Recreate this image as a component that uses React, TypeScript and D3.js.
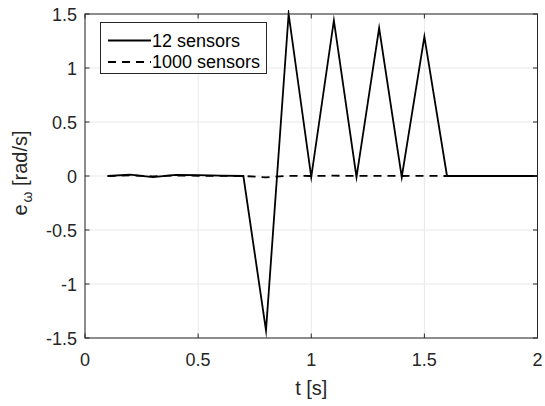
import React from "react";
import * as d3 from "d3";

const tValues = [0.1, 0.2, 0.3, 0.4, 0.5, 0.6, 0.7, 0.8, 0.9, 1.0, 1.1, 1.2, 1.3, 1.4, 1.5, 1.6, 1.7, 1.8, 1.9, 2.0];
const sensors12 = [0, 0.012, -0.01, 0.01, 0.008, 0.003, 0, -1.43, 1.5, -0.01, 1.44, -0.01, 1.37, -0.01, 1.29, 0, 0, 0, 0, 0];
const sensors1000 = [0, 0.005, -0.003, 0.004, 0.002, 0.001, 0, -0.012, 0.002, 0, 0.003, 0, 0.002, 0, 0.001, 0, 0, 0, 0, 0];
const xTicks = [0, 0.5, 1, 1.5, 2];
const yTicks = [-1.5, -1, -0.5, 0, 0.5, 1, 1.5];
const seriesNames = ["12 sensors", "1000 sensors"];

const W = 545, H = 406;
const L = 85, R = 537.5, T = 14, B = 338;

export default function App() {
  const x = d3.scaleLinear().domain([0, 2]).range([L, R]);
  const y = d3.scaleLinear().domain([-1.5, 1.5]).range([B, T]);
  const line = d3.line<number>().x((_, i) => x(tValues[i])).y((d) => y(d));
  const font = "'Liberation Sans', Arial, sans-serif";
  const axisColor = "#262626";
  const fmt = (v: number) => String(v);
  return (
    <svg width={W} height={H} style={{ position: "absolute", left: 0, top: 0, background: "#fff" }}>
      <defs>
        <clipPath id="clip">
          <rect x={L} y={T - 4} width={R - L} height={B - T + 8} />
        </clipPath>
      </defs>
      <rect x={0} y={0} width={W} height={H} fill="#fff" />
      {xTicks.map((t) => (
        <line key={"gx" + t} x1={x(t)} x2={x(t)} y1={T} y2={B} stroke="#e8e8e8" strokeWidth={1} />
      ))}
      {yTicks.map((t) => (
        <line key={"gy" + t} x1={L} x2={R} y1={y(t)} y2={y(t)} stroke="#e8e8e8" strokeWidth={1} />
      ))}
      <g clipPath="url(#clip)">
        <path d={line(sensors1000) || ""} fill="none" stroke="#000" strokeWidth={1.8} strokeDasharray="8,6" />
        <path d={line(sensors12) || ""} fill="none" stroke="#000" strokeWidth={1.8} strokeLinejoin="miter" strokeMiterlimit={10} />
      </g>
      <rect x={L} y={T} width={R - L} height={B - T} fill="none" stroke={axisColor} strokeWidth={1} />
      {xTicks.map((t) => (
        <g key={"xt" + t}>
          <line x1={x(t)} x2={x(t)} y1={B} y2={B - 4.5} stroke={axisColor} />
          <line x1={x(t)} x2={x(t)} y1={T} y2={T + 4.5} stroke={axisColor} />
          <text x={x(t)} y={B + 27.5} textAnchor="middle" fontFamily={font} fontSize={18} fill={axisColor}>
            {fmt(t)}
          </text>
        </g>
      ))}
      {yTicks.map((t) => (
        <g key={"yt" + t}>
          <line x1={L} x2={L + 4.5} y1={y(t)} y2={y(t)} stroke={axisColor} />
          <line x1={R} x2={R - 4.5} y1={y(t)} y2={y(t)} stroke={axisColor} />
          <text x={L - 8} y={y(t) + 6.5} textAnchor="end" fontFamily={font} fontSize={18} fill={axisColor}>
            {fmt(t)}
          </text>
        </g>
      ))}
      <text x={x(1)} y={395} textAnchor="middle" fontFamily={font} fontSize={20} fill={axisColor}>
        t [s]
      </text>
      <text transform={`translate(27, ${(T + B) / 2 - 3}) rotate(-90)`} textAnchor="middle" fontFamily={font} fontSize={20} fill={axisColor}>
        e<tspan fontSize={14} dy={5} dx={2}>ω</tspan>
        <tspan dy={-5}> [rad/s]</tspan>
      </text>
      <rect x={100.5} y={22.5} width={166} height={51} fill="#fff" stroke={axisColor} strokeWidth={1} />
      {seriesNames.map((n, i) => (
        <g key={n}>
          <line x1={108} x2={151} y1={40.5 + i * 21.5} y2={40.5 + i * 21.5} stroke="#000" strokeWidth={1.8}
            strokeDasharray={i === 1 ? "8,6" : undefined} />
          <text x={152} y={46.5 + i * 21.5} fontFamily={font} fontSize={18} fill="#000">{n}</text>
        </g>
      ))}
    </svg>
  );
}
